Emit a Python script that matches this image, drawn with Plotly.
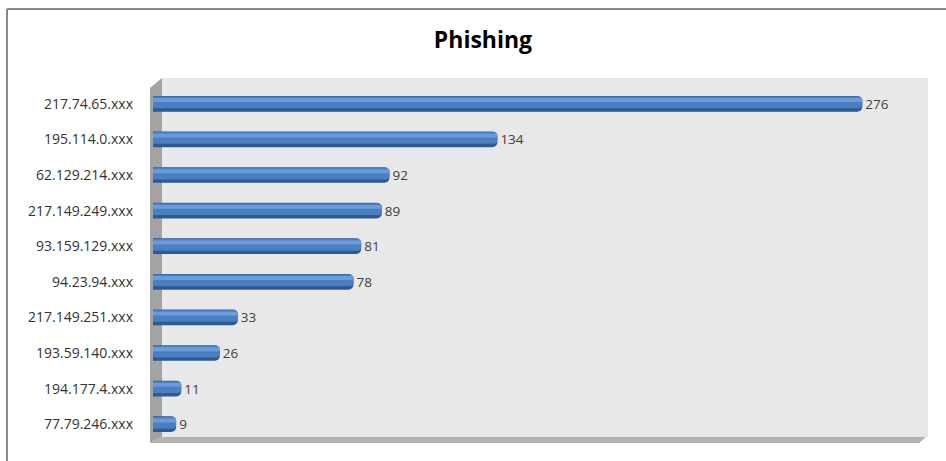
import plotly.graph_objects as go

categories = ["217.74.65.xxx", "195.114.0.xxx", "62.129.214.xxx", "217.149.249.xxx",
              "93.159.129.xxx", "94.23.94.xxx", "217.149.251.xxx", "193.59.140.xxx",
              "194.177.4.xxx", "77.79.246.xxx"]
values = [276, 134, 92, 89, 81, 78, 33, 26, 11, 9]
title_text = "Phishing"

FW, FH = 946, 461
L, R, T, B = 153, 924, 86, 442
W, H = R - L, B - T

def px(x):
    return (x - L) / W

def py(y):
    return (B - y) / H

fig = go.Figure()
# base dark layer
fig.add_trace(go.Bar(y=categories, x=values, orientation="h", width=0.44,
                     marker=dict(color="#2d5a8f", line=dict(width=0), cornerradius=5),
                     text=[str(v) for v in values], textposition="outside",
                     constraintext="none",
                     textfont=dict(family="Open Sans", size=13.5, color="#404040"),
                     cliponaxis=False, hoverinfo="skip"))
# main body
fig.add_trace(go.Bar(y=categories, x=values, orientation="h", width=0.33, offset=-0.205,
                     marker=dict(color="#4a80c2", line=dict(width=0), cornerradius=4),
                     hoverinfo="skip"))
# highlight
fig.add_trace(go.Bar(y=categories, x=values, orientation="h", width=0.11, offset=-0.16,
                     marker=dict(color="#6a9cdb", line=dict(width=0), cornerradius=3),
                     hoverinfo="skip"))

shapes = []
# back wall
shapes.append(dict(type="path", xref="paper", yref="paper", layer="below",
                   path=f"M {px(162)} {py(437)} L {px(162)} {py(78)} L {px(928)} {py(78)} L {px(928)} {py(437)} Z",
                   fillcolor="#e8e8e8", line=dict(width=0)))
# left wall
shapes.append(dict(type="path", xref="paper", yref="paper", layer="below",
                   path=f"M {px(150)} {py(443)} L {px(150)} {py(88)} L {px(162)} {py(78)} L {px(162)} {py(437)} Z",
                   fillcolor="#a3a3a3", line=dict(width=0)))
# floor
shapes.append(dict(type="path", xref="paper", yref="paper", layer="below",
                   path=f"M {px(150)} {py(443)} L {px(162)} {py(437)} L {px(926)} {py(437)} L {px(919)} {py(443)} Z",
                   fillcolor="#b2b2b2", line=dict(width=0)))
# outer border
shapes.append(dict(type="line", xref="paper", yref="paper", layer="below",
                   x0=px(7), y0=py(9), x1=px(960), y1=py(9),
                   line=dict(color="#8a8a8a", width=2)))
shapes.append(dict(type="line", xref="paper", yref="paper", layer="below",
                   x0=px(7), y0=py(9), x1=px(7), y1=py(480),
                   line=dict(color="#8a8a8a", width=2)))

fig.update_layout(
    width=FW, height=FH,
    margin=dict(l=L, r=FW - R, t=T, b=FH - B),
    paper_bgcolor="white", plot_bgcolor="rgba(0,0,0,0)",
    barmode="overlay", showlegend=False,
    title=dict(text=f"<b>{title_text}</b>", xref="container", yref="container",
               x=483 / FW, y=1 - 40 / FH, xanchor="center", yanchor="middle",
               font=dict(family="Open Sans", size=23, color="#000000")),
    xaxis=dict(range=[0, 300], visible=False, showgrid=False, zeroline=False),
    yaxis=dict(type="category", categoryorder="array", categoryarray=categories,
               range=[9.5, -0.5], showgrid=False, zeroline=False, showline=False,
               ticks="", ticklabelstandoff=19,
               tickfont=dict(family="Open Sans", size=14, color="#333333")),
    shapes=shapes,
)

fig.write_html("out.html", config={"displayModeBar": False},
               post_script="document.body.style.margin='0';document.body.style.overflow='hidden';")
